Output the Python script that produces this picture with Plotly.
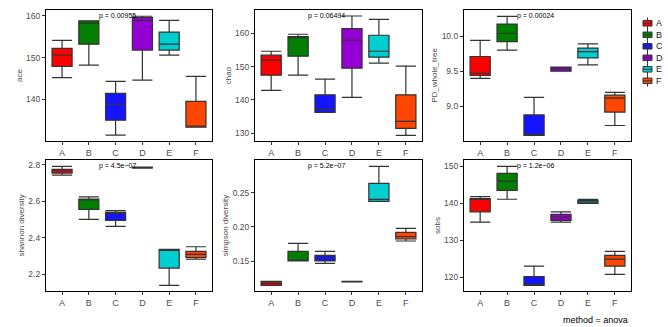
import plotly.graph_objects as go

# Groups and their fill colours
groups = ["A", "B", "C", "D", "E", "F"]
colors = ["#FF0000", "#007F00", "#1414FF", "#9400D3", "#00CED1", "#FF4500"]

# Box statistics per metric: lower whisker, Q1, median, Q3, upper whisker
ace_low = [145.2, 148.2, 131.4, 144.6, 150.6, 133.3]
ace_q1 = [147.9, 153.2, 135.0, 151.8, 151.8, 133.3]
ace_med = [150.6, 158.2, 138.8, 158.9, 153.2, 133.6]
ace_q3 = [152.2, 158.8, 141.4, 159.6, 156.1, 139.5]
ace_high = [154.1, 158.8, 144.3, 159.9, 158.9, 145.5]

chao_low = [142.8, 147.4, 136.2, 140.7, 151.0, 129.3]
chao_q1 = [147.4, 153.1, 136.2, 149.5, 152.8, 131.4]
chao_med = [151.9, 158.8, 137.1, 157.9, 154.6, 133.5]
chao_q3 = [153.4, 159.0, 141.5, 161.4, 159.4, 141.5]
chao_high = [154.6, 159.7, 146.2, 165.2, 164.2, 150.1]

pd_low = [9.40, 9.80, 8.59, 9.50, 9.59, 8.73]
pd_q1 = [9.44, 9.92, 8.59, 9.50, 9.69, 8.92]
pd_med = [9.47, 10.04, 8.60, 9.53, 9.78, 9.12]
pd_q3 = [9.71, 10.17, 8.88, 9.56, 9.83, 9.16]
pd_high = [9.94, 10.28, 9.13, 9.56, 9.89, 9.20]

sha_low = [2.743, 2.500, 2.462, 2.781, 2.138, 2.282]
sha_q1 = [2.754, 2.555, 2.495, 2.782, 2.233, 2.291]
sha_med = [2.767, 2.608, 2.535, 2.784, 2.333, 2.308]
sha_q3 = [2.774, 2.612, 2.538, 2.786, 2.335, 2.324]
sha_high = [2.791, 2.624, 2.548, 2.787, 2.335, 2.350]

sim_low = [0.1144, 0.1500, 0.1466, 0.1195, 0.2373, 0.1793]
sim_q1 = [0.1144, 0.1500, 0.1500, 0.1196, 0.2373, 0.1822]
sim_med = [0.1173, 0.1502, 0.1544, 0.1198, 0.2402, 0.1856]
sim_q3 = [0.1202, 0.1641, 0.1583, 0.1200, 0.2637, 0.1920]
sim_high = [0.1202, 0.1759, 0.1641, 0.1201, 0.2885, 0.1978]

sobs_low = [134.9, 141.1, 117.8, 134.9, 140.0, 120.8]
sobs_q1 = [137.7, 143.5, 117.8, 135.4, 140.0, 123.0]
sobs_med = [141.1, 146.0, 117.9, 136.3, 140.4, 124.9]
sobs_q3 = [141.3, 148.1, 120.2, 137.0, 140.8, 125.9]
sobs_high = [141.8, 150.0, 123.0, 137.7, 141.1, 127.0]

metrics = [
    ("ace", ace_low, ace_q1, ace_med, ace_q3, ace_high, "p = 0.00955", [130.0, 161.4], [140, 150, 160]),
    ("chao", chao_low, chao_q1, chao_med, chao_q3, chao_high, "p = 0.06494", [127.6, 167.0], [130, 140, 150, 160]),
    ("PD_whole_tree", pd_low, pd_q1, pd_med, pd_q3, pd_high, "p = 0.00024", [8.51, 10.37], [9.0, 9.5, 10.0]),
    ("shannon diversity", sha_low, sha_q1, sha_med, sha_q3, sha_high, "p = 4.5e\u221207", [2.107, 2.826], [2.2, 2.4, 2.6, 2.8]),
    ("simpson diversity", sim_low, sim_q1, sim_med, sim_q3, sim_high, "p = 5.2e\u221207", [0.1061, 0.2978], [0.15, 0.20, 0.25]),
    ("sobs", sobs_low, sobs_q1, sobs_med, sobs_q3, sobs_high, "p = 1.2e\u221206", [116.3, 151.7], [120, 130, 140, 150]),
]
tick_text = {
    "PD_whole_tree": ["9.0", "9.5", "10.0"],
    "simpson diversity": ["0.15", "0.20", "0.25"],
}

FONT = "Liberation Sans, Arial"
W, H = 668, 327
x_dom = [(46, 212), (255, 422), (464, 631)]
y_dom = [(10, 141), (160, 291)]

fig = go.Figure()
layout = {}
annotations = []
shapes = []

for i, (name, low, q1, med, q3, high, ptxt, yr, tv) in enumerate(metrics):
    r, c = divmod(i, 3)
    n = i + 1
    xa = "x" if n == 1 else f"x{n}"
    ya = "y" if n == 1 else f"y{n}"
    for g, col, lo, a, m, b, hi in zip(groups, colors, low, q1, med, q3, high):
        fig.add_trace(go.Box(
            x=[g], lowerfence=[lo], q1=[a], median=[m], q3=[b], upperfence=[hi],
            name=g, showlegend=False,
            fillcolor=col, line=dict(color="#333333", width=1.2),
            whiskerwidth=1, boxpoints=False, width=0.75,
            xaxis=xa, yaxis=ya,
        ))
    x0, x1 = x_dom[c]
    y0, y1 = y_dom[r]
    layout["xaxis" if n == 1 else f"xaxis{n}"] = dict(
        domain=[x0 / W, x1 / W], anchor=ya,
        categoryorder="array", categoryarray=groups, range=[-0.6, 5.6],
        showgrid=False, zeroline=False, showline=True, mirror=True,
        linecolor="black", linewidth=1.2,
        ticks="outside", ticklen=3, tickcolor="#333333",
        tickfont=dict(family=FONT, size=9, color="#4D4D4D"),
    )
    ytext = tick_text.get(name, [str(v) for v in tv])
    layout["yaxis" if n == 1 else f"yaxis{n}"] = dict(
        domain=[1 - y1 / H, 1 - y0 / H], anchor=xa, range=yr,
        tickvals=tv, ticktext=ytext,
        showgrid=False, zeroline=False, showline=True, mirror=True,
        linecolor="black", linewidth=1.2,
        ticks="outside", ticklen=3, tickcolor="#333333",
        tickfont=dict(family=FONT, size=8.5, color="#4D4D4D"),
        title=dict(text=name, standoff=2,
                   font=dict(family=FONT, size=8, color="#4D4D4D")),
    )
    annotations.append(dict(
        text=ptxt, x=1.3, y=0.955, xref=xa, yref=f"{ya} domain",
        xanchor="left", yanchor="middle", showarrow=False,
        font=dict(family=FONT, size=7, color="black"),
    ))

annotations.append(dict(
    text="method = anova", x=630 / W, y=1 - 320 / H, xref="paper", yref="paper",
    xanchor="right", yanchor="middle", showarrow=False,
    font=dict(family=FONT, size=9, color="black"),
))

# Legend keys: small box glyphs with a whisker line, stacked vertically
key_x0, key_x1, key_mid = 643, 652, 647.5
row0, row_step, key_h = 23.3, 11.5, 5.5
for k, (g, col) in enumerate(zip(groups, colors)):
    cy = row0 + k * row_step
    shapes.append(dict(type="line", xref="paper", yref="paper",
                       x0=key_mid / W, x1=key_mid / W,
                       y0=1 - (cy - row_step / 2) / H, y1=1 - (cy + row_step / 2) / H,
                       line=dict(color="#333333", width=1)))
    shapes.append(dict(type="rect", xref="paper", yref="paper",
                       x0=key_x0 / W, x1=key_x1 / W,
                       y0=1 - (cy - key_h / 2) / H, y1=1 - (cy + key_h / 2) / H,
                       fillcolor=col, line=dict(color="#333333", width=1)))
    shapes.append(dict(type="line", xref="paper", yref="paper",
                       x0=key_x0 / W, x1=key_x1 / W,
                       y0=1 - cy / H, y1=1 - cy / H,
                       line=dict(color="#333333", width=1)))
    annotations.append(dict(
        text=g, x=654 / W, y=1 - cy / H, xref="paper", yref="paper",
        xanchor="left", yanchor="middle", showarrow=False,
        font=dict(family=FONT, size=9, color="#1a1a1a"),
    ))

fig.update_layout(
    width=W, height=H, margin=dict(l=0, r=0, t=0, b=0),
    plot_bgcolor="white", paper_bgcolor="white",
    annotations=annotations, shapes=shapes, showlegend=False,
    **layout,
)

fig.write_html("out.html")
